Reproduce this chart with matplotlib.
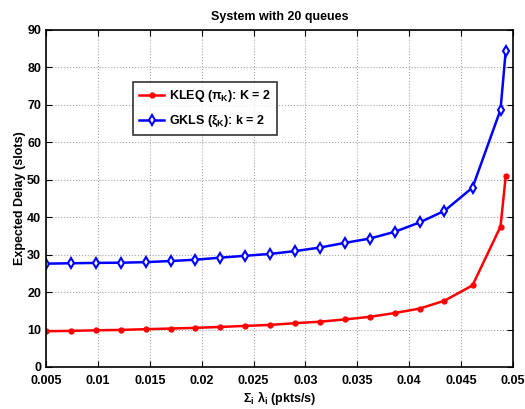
import matplotlib
matplotlib.use('Agg')
import matplotlib.pyplot as plt

# total arrival rate (pkts/s)
x_rate = [0.005, 0.0074, 0.0098, 0.0122, 0.0146, 0.017, 0.0194, 0.0218,
          0.0242, 0.0266, 0.029, 0.0314, 0.0338, 0.0362, 0.0386, 0.041,
          0.0434, 0.0461, 0.0488, 0.0493]

delay_kleq = [9.55, 9.65, 9.8, 9.9, 10.1, 10.27, 10.45, 10.7, 10.97, 11.24,
              11.7, 12.1, 12.7, 13.4, 14.4, 15.6, 17.7, 21.8, 37.5, 50.9]
delay_gkls = [27.6, 27.7, 27.8, 27.85, 28.0, 28.3, 28.65, 29.2, 29.7, 30.2,
              30.95, 31.9, 33.15, 34.3, 36.1, 38.6, 41.7, 47.9, 68.7, 84.4]

xticks = [0.005, 0.01, 0.015, 0.02, 0.025, 0.03, 0.035, 0.04, 0.045, 0.05]
xtick_labels = ['0.005', '0.01', '0.015', '0.02', '0.025', '0.03', '0.035',
                '0.04', '0.045', '0.05']
yticks = list(range(0, 91, 10))

plt.rcParams['font.family'] = ['Liberation Sans', 'DejaVu Sans']
plt.rcParams['font.weight'] = 'bold'
plt.rcParams['mathtext.fontset'] = 'custom'
plt.rcParams['mathtext.rm'] = 'Liberation Sans:bold'
plt.rcParams['mathtext.it'] = 'Liberation Sans:bold'
plt.rcParams['mathtext.bf'] = 'Liberation Sans:bold'

fig = plt.figure(figsize=(5.25, 4.09), dpi=100)
ax = fig.add_axes([0.0876, 0.1027, 0.8895, 0.824])

ax.plot(x_rate, delay_kleq, color='red', linewidth=1.8, marker='o',
        markersize=3.5, label=r'KLEQ ($\pi_K$): K = 2')
ax.plot(x_rate, delay_gkls, color='blue', linewidth=1.8, marker='d',
        markersize=5, markerfacecolor='white', markeredgewidth=1.5,
        label=r'GKLS ($\xi_K$): k = 2')

ax.set_xlim(0.005, 0.05)
ax.set_ylim(0, 90)
ax.set_xticks(xticks)
ax.set_xticklabels(xtick_labels)
ax.set_yticks(yticks)
ax.tick_params(direction='in', top=True, right=True, labelsize=9, length=4)
ax.tick_params(axis='x', pad=6)
for lab in ax.get_xticklabels() + ax.get_yticklabels():
    lab.set_fontweight('bold')
ax.grid(True, linestyle=':', color='gray', linewidth=0.8, alpha=0.7)
for s in ax.spines.values():
    s.set_linewidth(1.2)

ax.set_title('System with 20 queues', fontsize=9, fontweight='bold', pad=7)
ax.set_xlabel(r'$\Sigma_i\ \lambda_i$ (pkts/s)', fontsize=9, fontweight='bold',
              labelpad=1)
ax.set_ylabel('Expected Delay (slots)', fontsize=9, fontweight='bold',
              labelpad=1)

leg = ax.legend(loc='upper left', bbox_to_anchor=(0.186, 0.846), fontsize=9,
                frameon=True, fancybox=False, edgecolor='black',
                handlelength=2.0, borderpad=0.5, labelspacing=0.7,
                handletextpad=0.4, borderaxespad=0)
leg.get_frame().set_linewidth(1.2)
for t in leg.get_texts():
    t.set_fontweight('bold')

fig.savefig('out.png', dpi=100)
